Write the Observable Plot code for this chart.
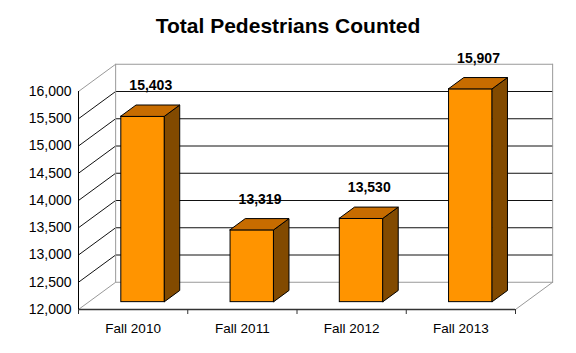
<!DOCTYPE html>
<html><head><meta charset="utf-8">
<script src="https://cdn.jsdelivr.net/npm/d3@7"></script>
<script src="https://cdn.jsdelivr.net/npm/@observablehq/plot@0.6"></script>
<style>
body{margin:0;background:#fff;font-family:"Liberation Sans",Arial,sans-serif;}
#title{font-weight:bold;font-size:21px;line-height:21px;text-align:center;width:576px;height:40px;box-sizing:border-box;padding-top:15px;color:#000;}
</style></head><body>
<div id="title">Total Pedestrians Counted</div>
<div id="chart"></div>
<script>
const categories = ["Fall 2010", "Fall 2011", "Fall 2012", "Fall 2013"];
const values = [15403, 13319, 13530, 15907];
const yTicks = [12000, 12500, 13000, 13500, 14000, 14500, 15000, 15500, 16000];

// 3D depth expressed in data units (x: categories, y: value)
const DX = 0.34, DY = 500;
const f0 = 0.27, f1 = 0.68;   // bar depth position (front, back) as a fraction of total depth
const half = 0.2;             // half bar width in category units
const yMin = yTicks[0], yMax = yTicks[yTicks.length - 1], n = categories.length;

const bars = values.map((v, i) => ({i, v, c: i + 0.5}));

// wall gridlines: front axis -> back wall
const grid = [];
yTicks.forEach(v => {
  grid.push({x: 0, y: v, v}, {x: DX, y: v + DY, v}, {x: n + DX, y: v + DY, v});
});
const edges = [
  {k: "a", x: DX, y: yMin + DY}, {k: "a", x: DX, y: yMax + DY},
  {k: "b", x: n + DX, y: yMin + DY}, {k: "b", x: n + DX, y: yMax + DY},
  {k: "c", x: n, y: yMin}, {k: "c", x: n + DX, y: yMin + DY}
];

const sideFaces = [], topFaces = [];
bars.forEach(d => {
  const L = d.c - half, R = d.c + half;
  sideFaces.push({i: d.i, x: R + f0 * DX, y1: yMin + f0 * DY, y2: d.v + f0 * DY});
  sideFaces.push({i: d.i, x: R + f1 * DX, y1: yMin + f1 * DY, y2: d.v + f1 * DY});
  topFaces.push({i: d.i, y: d.v + f0 * DY, x1: L + f0 * DX, x2: R + f0 * DX});
  topFaces.push({i: d.i, y: d.v + f1 * DY, x1: L + f1 * DX, x2: R + f1 * DX});
});

const chart = Plot.plot({
  width: 576, height: 313,
  marginLeft: 78, marginRight: 61, marginTop: 51, marginBottom: 44,
  x: {domain: [0, n]},
  y: {domain: [yMin, yMax]},
  style: {fontFamily: '"Liberation Sans", Arial, sans-serif', color: "#000", background: "#fff", overflow: "visible"},
  marks: [
    Plot.line(grid, {x: "x", y: "y", z: "v", stroke: d => (d.v === yMin || d.v === yMax) ? "#999" : "#111", strokeWidth: 1}),
    Plot.line(edges, {x: "x", y: "y", z: "k", stroke: "#999", strokeWidth: 1}),
    Plot.ruleY([yMin], {x1: 0, x2: n, stroke: "#333", strokeWidth: 1.5}),
    Plot.ruleX([0], {y1: yMin, y2: yMax, stroke: "#000", strokeWidth: 1}),
    Plot.axisY({ticks: yTicks, tickFormat: d3.format(","), tickSize: 0, tickPadding: 7, fontSize: 14, label: null}),
    Plot.axisX({ticks: d3.range(0, n + 1), tickSize: 5, tickFormat: () => "", label: null, stroke: "#333"}),
    Plot.axisX({ticks: bars.map(d => d.c), tickSize: 0, tickPadding: 14, fontSize: 13.5, tickFormat: d => categories[Math.floor(d)], label: null}),
    Plot.rect(bars, {x1: d => d.c - half + f0 * DX, x2: d => d.c + half + f0 * DX, y1: yMin + f0 * DY, y2: d => d.v + f0 * DY, fill: "#FF9400", stroke: "#000", strokeWidth: 1}),
    Plot.areaY(sideFaces, {x: "x", y1: "y1", y2: "y2", z: "i", fill: "#824A00", stroke: "#000", strokeWidth: 1}),
    Plot.areaX(topFaces, {y: "y", x1: "x1", x2: "x2", z: "i", fill: "#C76C00", stroke: "#000", strokeWidth: 1}),
    Plot.text(bars, {x: d => d.c + (f0 + f1) / 2 * DX, y: d => d.v + f1 * DY, dy: -20, text: d => d3.format(",")(d.v), fontWeight: "bold", fontSize: 14, fill: "#000"})
  ]
});
document.getElementById("chart").appendChild(chart);
</script>
</body></html>
